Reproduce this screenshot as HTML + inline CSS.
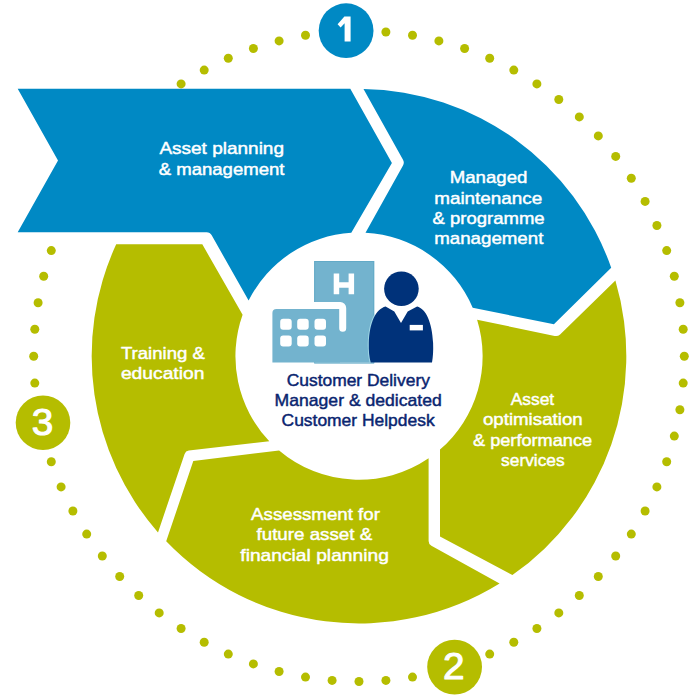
<!DOCTYPE html>
<html><head><meta charset="utf-8"><title>Service cycle diagram</title>
<style>html,body{margin:0;padding:0;background:#fff;width:700px;height:700px;overflow:hidden;font-family:"Liberation Sans",sans-serif}</style>
</head><body>
<svg width="700" height="700" viewBox="0 0 700 700" style="display:block;font-family:'Liberation Sans',sans-serif">
<g fill="#b5bd00"><circle cx="684.3" cy="356.2" r="4.5"/><circle cx="683.2" cy="383.1" r="4.5"/><circle cx="679.9" cy="409.7" r="4.5"/><circle cx="674.3" cy="436.1" r="4.5"/><circle cx="666.7" cy="461.8" r="4.5"/><circle cx="656.9" cy="486.9" r="4.5"/><circle cx="645.1" cy="511.0" r="4.5"/><circle cx="631.3" cy="534.1" r="4.5"/><circle cx="615.7" cy="556.0" r="4.5"/><circle cx="598.3" cy="576.5" r="4.5"/><circle cx="579.3" cy="595.5" r="4.5"/><circle cx="558.8" cy="612.9" r="4.5"/><circle cx="536.9" cy="628.5" r="4.5"/><circle cx="513.8" cy="642.3" r="4.5"/><circle cx="489.7" cy="654.1" r="4.5"/><circle cx="464.6" cy="663.9" r="4.5"/><circle cx="438.9" cy="671.5" r="4.5"/><circle cx="412.5" cy="677.1" r="4.5"/><circle cx="385.9" cy="680.4" r="4.5"/><circle cx="359.0" cy="681.5" r="4.5"/><circle cx="332.1" cy="680.4" r="4.5"/><circle cx="305.5" cy="677.1" r="4.5"/><circle cx="279.1" cy="671.5" r="4.5"/><circle cx="253.4" cy="663.9" r="4.5"/><circle cx="228.3" cy="654.1" r="4.5"/><circle cx="204.2" cy="642.3" r="4.5"/><circle cx="181.1" cy="628.5" r="4.5"/><circle cx="159.2" cy="612.9" r="4.5"/><circle cx="138.7" cy="595.5" r="4.5"/><circle cx="119.7" cy="576.5" r="4.5"/><circle cx="102.3" cy="556.0" r="4.5"/><circle cx="86.7" cy="534.1" r="4.5"/><circle cx="72.9" cy="511.0" r="4.5"/><circle cx="61.1" cy="486.9" r="4.5"/><circle cx="51.3" cy="461.8" r="4.5"/><circle cx="43.7" cy="436.1" r="4.5"/><circle cx="38.1" cy="409.7" r="4.5"/><circle cx="34.8" cy="383.1" r="4.5"/><circle cx="33.7" cy="356.2" r="4.5"/><circle cx="34.8" cy="329.3" r="4.5"/><circle cx="38.1" cy="302.7" r="4.5"/><circle cx="43.7" cy="276.3" r="4.5"/><circle cx="51.3" cy="250.6" r="4.5"/><circle cx="61.1" cy="225.5" r="4.5"/><circle cx="72.9" cy="201.4" r="4.5"/><circle cx="86.7" cy="178.3" r="4.5"/><circle cx="102.3" cy="156.4" r="4.5"/><circle cx="119.7" cy="135.9" r="4.5"/><circle cx="138.7" cy="116.9" r="4.5"/><circle cx="159.2" cy="99.5" r="4.5"/><circle cx="181.1" cy="83.9" r="4.5"/><circle cx="204.2" cy="70.1" r="4.5"/><circle cx="228.3" cy="58.3" r="4.5"/><circle cx="253.4" cy="48.5" r="4.5"/><circle cx="279.1" cy="40.9" r="4.5"/><circle cx="305.5" cy="35.3" r="4.5"/><circle cx="332.1" cy="32.0" r="4.5"/><circle cx="359.0" cy="30.9" r="4.5"/><circle cx="385.9" cy="32.0" r="4.5"/><circle cx="412.5" cy="35.3" r="4.5"/><circle cx="438.9" cy="40.9" r="4.5"/><circle cx="464.6" cy="48.5" r="4.5"/><circle cx="489.7" cy="58.3" r="4.5"/><circle cx="513.8" cy="70.1" r="4.5"/><circle cx="536.9" cy="83.9" r="4.5"/><circle cx="558.8" cy="99.5" r="4.5"/><circle cx="579.3" cy="116.9" r="4.5"/><circle cx="598.3" cy="135.9" r="4.5"/><circle cx="615.7" cy="156.4" r="4.5"/><circle cx="631.3" cy="178.3" r="4.5"/><circle cx="645.1" cy="201.4" r="4.5"/><circle cx="656.9" cy="225.5" r="4.5"/><circle cx="666.7" cy="250.6" r="4.5"/><circle cx="674.3" cy="276.3" r="4.5"/><circle cx="679.9" cy="302.7" r="4.5"/><circle cx="683.2" cy="329.3" r="4.5"/></g>
<path d="M17.7,88.7 L350.3,88.7 L391.9,162.9 L351.3,232.8 A123.6,123.6 0 0 0 248.6,300.6 L211.7,235.3 Q210,232.3 206.6,232.3 L17.7,232.3 L58,160.6 Z" fill="#0089c4"/>
<path d="M363.5,88.9 A267.3,267.3 0 0 1 611.2,267.7 L553.9,324.3 L472.7,307.7 A123.6,123.6 0 0 0 365.5,232.8 L403.0,165.4 Q404.6,162.6 403.0,159.8 Z" fill="#0089c4"/>
<path d="M615.4,280.6 A267.3,267.3 0 0 1 512.4,575.1 L440.0,536.6 L440.0,449.6 A123.6,123.6 0 0 0 477.1,319.7 L554.7,335.9 Q557.8,336.6 560.1,334.4 Z" fill="#b5bd00"/>
<path d="M499.6,583.5 A267.3,267.3 0 0 1 166.2,541.3 L193.3,461.1 L279.1,450.5 A123.6,123.6 0 0 0 428.6,458.3 L428.6,541.1 Q428.6,544.3 431.4,545.8 Z" fill="#b5bd00"/>
<path d="M158.0,532.4 A267.3,267.3 0 0 1 116.2,244.3 L202.3,244.3 L242.6,314.8 A123.6,123.6 0 0 0 269.3,441.3 L188.8,450.5 Q185.6,450.9 184.6,453.9 Z" fill="#b5bd00"/>
<circle cx="346.1" cy="30.7" r="27.4" fill="#0089c4"/>
<circle cx="454.6" cy="667.1" r="27.4" fill="#b5bd00"/>
<circle cx="43.0" cy="422.7" r="27.3" fill="#b5bd00"/>
<path d="M344.4,16.6 H350.6 V41.4 H344.6 V23.3 L340.6,27.6 L337.6,24.3 Z" fill="#fff"/>
<text x="453.7" y="679.1" font-size="37" fill="#fff" stroke="#fff" stroke-width="1.1" stroke-linejoin="round" text-anchor="middle" textLength="21.5" lengthAdjust="spacingAndGlyphs">2</text>
<text x="42.4" y="434.6" font-size="37" fill="#fff" stroke="#fff" stroke-width="1.1" stroke-linejoin="round" text-anchor="middle" textLength="21.5" lengthAdjust="spacingAndGlyphs">3</text>
<rect x="314.2" y="261" width="60" height="101.6" fill="#73b3ce"/>
<rect x="314.7" y="261.5" width="59" height="101.6" fill="none" stroke="#63aac7" stroke-width="1"/>
<path d="M272.4,362.6 V313 Q272.4,308.9 276.5,308.9 H340 V362.6 Z" fill="#73b3ce"/>
<path d="M300,305.5 H340.2 A2.5,2.5 0 0 1 342.7,308 V328.2" fill="none" stroke="#fff" stroke-width="7" stroke-linecap="round"/>
<rect x="280.2" y="318.8" width="11.5" height="11" rx="3" fill="#fff"/>
<rect x="297.2" y="318.8" width="11.5" height="11" rx="3" fill="#fff"/>
<rect x="314.5" y="318.8" width="11.5" height="11" rx="3" fill="#fff"/>
<rect x="280.2" y="335.6" width="11.5" height="11" rx="3" fill="#fff"/>
<rect x="297.2" y="335.6" width="11.5" height="11" rx="3" fill="#fff"/>
<rect x="314.5" y="335.6" width="11.5" height="11" rx="3" fill="#fff"/>
<path d="M333.7,273.6 h5.5 v8.6 h9.4 v-8.6 h5.5 v20.7 h-5.5 v-6.6 h-9.4 v6.6 h-5.5 Z" fill="#fff"/>
<clipPath id="bc"><rect x="314.2" y="261" width="60" height="101.6"/></clipPath>
<path d="M385.6,306.5 L394.3,311.5 L401,322.9 L407.7,311.5 L417.1,306.5 C426,309 432,322 433.1,343 C433.4,351 433,357 432,362.6 H370.7 C369.2,357 368.6,351 368.8,343 C369.5,322 376,309 385.6,306.5 Z" fill="none" stroke="#9fd6e6" stroke-width="2.2" clip-path="url(#bc)"/>
<circle cx="401.4" cy="288.8" r="17.3" fill="#00327a"/>
<path d="M385.6,306.5 L394.3,311.5 L401,322.9 L407.7,311.5 L417.1,306.5 C426,309 432,322 433.1,343 C433.4,351 433,357 432,362.6 H370.7 C369.2,357 368.6,351 368.8,343 C369.5,322 376,309 385.6,306.5 Z" fill="#00327a"/>
<rect x="409.7" y="324.9" width="13.2" height="5.5" fill="#fff"/>
<text x="159.4" y="153.8" textLength="124.6" lengthAdjust="spacingAndGlyphs" font-size="17" fill="#fff" stroke="#fff" stroke-width="0.45" stroke-linejoin="round" font-weight="normal">Asset planning</text><text x="158.7" y="174.9" textLength="125.8" lengthAdjust="spacingAndGlyphs" font-size="17" fill="#fff" stroke="#fff" stroke-width="0.45" stroke-linejoin="round" font-weight="normal">&amp; management</text>
<text x="449.7" y="182.7" textLength="77.7" lengthAdjust="spacingAndGlyphs" font-size="17" fill="#fff" stroke="#fff" stroke-width="0.45" stroke-linejoin="round" font-weight="normal">Managed</text><text x="434.2" y="203.7" textLength="108.1" lengthAdjust="spacingAndGlyphs" font-size="17" fill="#fff" stroke="#fff" stroke-width="0.45" stroke-linejoin="round" font-weight="normal">maintenance</text><text x="432.6" y="224.3" textLength="112.0" lengthAdjust="spacingAndGlyphs" font-size="17" fill="#fff" stroke="#fff" stroke-width="0.45" stroke-linejoin="round" font-weight="normal">&amp; programme</text><text x="434.2" y="244.4" textLength="109.2" lengthAdjust="spacingAndGlyphs" font-size="17" fill="#fff" stroke="#fff" stroke-width="0.45" stroke-linejoin="round" font-weight="normal">management</text>
<text x="510.7" y="404.7" textLength="43.5" lengthAdjust="spacingAndGlyphs" font-size="17" fill="#fff" stroke="#fff" stroke-width="0.45" stroke-linejoin="round" font-weight="normal">Asset</text><text x="482.9" y="425.0" textLength="99.8" lengthAdjust="spacingAndGlyphs" font-size="17" fill="#fff" stroke="#fff" stroke-width="0.45" stroke-linejoin="round" font-weight="normal">optimisation</text><text x="473.0" y="445.8" textLength="119.1" lengthAdjust="spacingAndGlyphs" font-size="17" fill="#fff" stroke="#fff" stroke-width="0.45" stroke-linejoin="round" font-weight="normal">&amp; performance</text><text x="501.1" y="466.4" textLength="63.6" lengthAdjust="spacingAndGlyphs" font-size="17" fill="#fff" stroke="#fff" stroke-width="0.45" stroke-linejoin="round" font-weight="normal">services</text>
<text x="251.1" y="519.8" textLength="128.8" lengthAdjust="spacingAndGlyphs" font-size="17" fill="#fff" stroke="#fff" stroke-width="0.45" stroke-linejoin="round" font-weight="normal">Assessment for</text><text x="256.5" y="540.1" textLength="115.7" lengthAdjust="spacingAndGlyphs" font-size="17" fill="#fff" stroke="#fff" stroke-width="0.45" stroke-linejoin="round" font-weight="normal">future asset &amp;</text><text x="240.3" y="560.7" textLength="148.6" lengthAdjust="spacingAndGlyphs" font-size="17" fill="#fff" stroke="#fff" stroke-width="0.45" stroke-linejoin="round" font-weight="normal">financial planning</text>
<text x="120.9" y="358.8" textLength="84.0" lengthAdjust="spacingAndGlyphs" font-size="17" fill="#fff" stroke="#fff" stroke-width="0.45" stroke-linejoin="round" font-weight="normal">Training &amp;</text><text x="120.9" y="378.7" textLength="83.5" lengthAdjust="spacingAndGlyphs" font-size="17" fill="#fff" stroke="#fff" stroke-width="0.45" stroke-linejoin="round" font-weight="normal">education</text>
<text x="286.7" y="386.3" textLength="143.2" lengthAdjust="spacingAndGlyphs" font-size="17" fill="#0a2570" stroke="#0a2570" stroke-width="0.45" stroke-linejoin="round" font-weight="normal">Customer Delivery</text><text x="274.6" y="406.1" textLength="167.2" lengthAdjust="spacingAndGlyphs" font-size="17" fill="#0a2570" stroke="#0a2570" stroke-width="0.45" stroke-linejoin="round" font-weight="normal">Manager &amp; dedicated</text><text x="281.6" y="425.9" textLength="153.0" lengthAdjust="spacingAndGlyphs" font-size="17" fill="#0a2570" stroke="#0a2570" stroke-width="0.45" stroke-linejoin="round" font-weight="normal">Customer Helpdesk</text>
</svg>
</body></html>
